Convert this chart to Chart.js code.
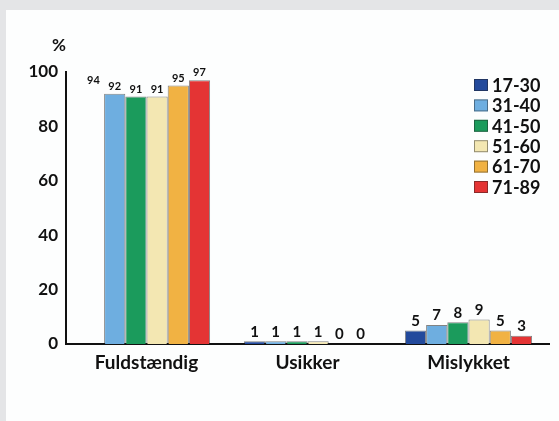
<!DOCTYPE html>
<html>
<head>
<meta charset="utf-8">
<script src="https://cdn.jsdelivr.net/npm/chart.js@4"></script>
<style>
  html, body { margin: 0; padding: 0; }
  body { width: 559px; height: 421px; background: #e4e5e7; position: relative; overflow: hidden; }
  #panel { position: absolute; left: 6px; top: 10px; width: 553px; height: 411px; background: #fdfefe; }
  #wrap { position: absolute; left: 0; top: 0; width: 559px; height: 421px; }
</style>
</head>
<body>
<div id="panel"></div>
<div id="wrap"><canvas id="chart" width="559" height="421"></canvas></div>
<script>
// kategorier og aldersgrupper
const categories = ['Fuldstændig', 'Usikker', 'Mislykket'];
const ageGroups = ['17-30', '31-40', '41-50', '51-60', '61-70', '71-89'];

// værdier i procent pr. aldersgruppe (Fuldstændig, Usikker, Mislykket)
const age17_30 = [94, 1, 5];
const age31_40 = [92, 1, 7];
const age41_50 = [91, 1, 8];
const age51_60 = [91, 1, 9];
const age61_70 = [95, 0, 5];
const age71_89 = [97, 0, 3];

const yTicks = [0, 20, 40, 60, 80, 100];

const seriesValues = [age17_30, age31_40, age41_50, age51_60, age61_70, age71_89];
const colors = ['#234a9c', '#6eaee0', '#1b9b5c', '#f3e7b2', '#f1b243', '#e43434'];

const FONT = 'Lato, "DejaVu Sans", sans-serif';

const datasets = ageGroups.map((g, i) => ({
    label: g,
    data: seriesValues[i],
    // første søjle for 17-30 er ikke synlig i originalen
    backgroundColor: i === 0 ? ['rgba(0,0,0,0)', colors[0], colors[0]] : colors[i],
    borderColor: i === 0 ? ['rgba(0,0,0,0)', 'rgba(30,30,30,0.55)', 'rgba(30,30,30,0.55)'] : 'rgba(30,30,30,0.55)',
    borderWidth: 1,
    categoryPercentage: 0.79,
    barPercentage: 1.0
}));

// tal over søjlerne
const valueLabels = {
    id: 'valueLabels',
    afterDatasetsDraw(chart) {
        const ctx = chart.ctx;
        ctx.save();
        ctx.fillStyle = '#111';
        ctx.textAlign = 'center';
        ctx.textBaseline = 'bottom';
        chart.data.datasets.forEach((ds, i) => {
            const meta = chart.getDatasetMeta(i);
            meta.data.forEach((bar, j) => {
                const size = j === 0 ? 11 : 15;
                ctx.font = 'bold ' + size + 'px ' + FONT;
                ctx.fillText(String(ds.data[j]), bar.x, bar.y - 2);
            });
        });
        ctx.restore();
    }
};

// legende og %-tegn tegnes oven i plotområdet
const overlay = {
    id: 'overlay',
    afterDraw(chart) {
        const ctx = chart.ctx;
        ctx.save();
        ctx.fillStyle = '#111';
        ctx.font = 'bold 17px ' + FONT;
        ctx.textAlign = 'center';
        ctx.textBaseline = 'middle';
        ctx.fillText('%', 59, 46);

        ctx.textAlign = 'left';
        ctx.font = 'bold 18px ' + FONT;
        ageGroups.forEach((g, i) => {
            const y = 85 + i * 20.4;
            ctx.fillStyle = colors[i];
            ctx.fillRect(474, y - 6, 14, 12);
            ctx.strokeStyle = 'rgba(30,30,30,0.45)';
            ctx.lineWidth = 1;
            ctx.strokeRect(474.5, y - 5.5, 13, 11);
            ctx.fillStyle = '#111';
            ctx.fillText(g, 492, y + 1);
        });
        ctx.restore();
    }
};

new Chart(document.getElementById('chart'), {
    type: 'bar',
    data: { labels: categories, datasets: datasets },
    options: {
        responsive: false,
        animation: false,
        layout: { padding: { top: 72, right: 10, left: 0, bottom: 0 } },
        plugins: {
            legend: { display: false },
            tooltip: { enabled: false }
        },
        scales: {
            x: {
                grid: { display: false, drawTicks: false },
                border: { display: true, color: '#111', width: 2 },
                ticks: { color: '#111', padding: 7, font: { family: FONT, size: 19, weight: 'bold' } },
                afterFit(scale) { scale.height = 77; }
            },
            y: {
                min: 0,
                max: 100,
                afterBuildTicks(scale) { scale.ticks = yTicks.map(v => ({ value: v })); },
                grid: { display: false, drawTicks: false },
                border: { display: true, color: '#111', width: 2 },
                ticks: { color: '#111', padding: 8, font: { family: FONT, size: 17, weight: 'bold' } },
                afterFit(scale) { scale.width = 66; }
            }
        }
    },
    plugins: [valueLabels, overlay]
});
</script>
</body>
</html>
